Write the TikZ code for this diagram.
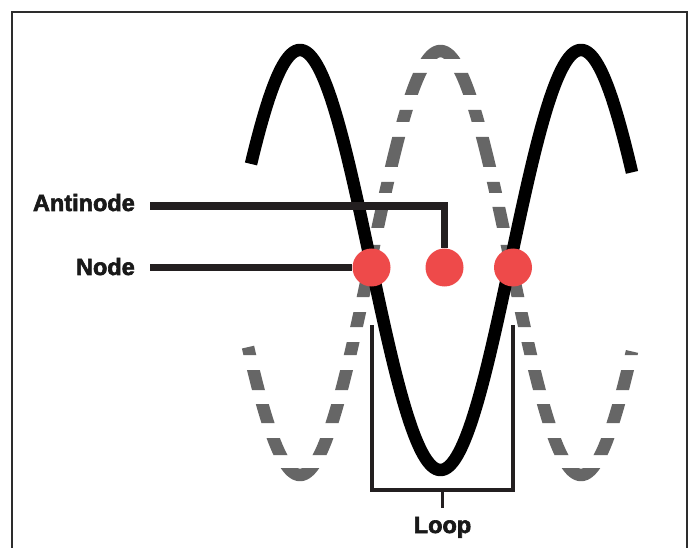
\documentclass[tikz,border=0pt]{standalone}
\usepackage{fontspec}
\setmainfont{Liberation Sans}[BoldFeatures={FakeBold=2.6}]
\definecolor{framegray}{RGB}{45,45,45}
\definecolor{wavegray}{RGB}{102,102,102}
\definecolor{linedark}{RGB}{35,31,32}
\definecolor{dotred}{RGB}{238,74,74}
\begin{document}
\begin{tikzpicture}[x=1pt,y=-1pt,
  frame/.style={draw=framegray,line width=2.5pt},
  wave/.style={line width=12.5pt,line join=round},
  conn/.style={draw=linedark,line width=7.5pt},
  brk/.style={draw=linedark,line width=3.5pt},
  dot/.style={circle,fill=dotred,minimum size=38pt,inner sep=0pt},
  lbl/.style={font=\fontsize{23.5}{23.5}\selectfont\bfseries,inner sep=0pt,text=black!90}]
\useasboundingbox (0,0) rectangle (691,548);
\fill[white] (0,0) rectangle (691,548);
\draw[frame] (12,548) -- (12,12) -- (687,12) -- (687,548);
% dashed (grey) wave, cut by horizontal bands
\begin{scope}
\clip (0,40) rectangle (691,59) (0,73) rectangle (691,95) (0,110) rectangle (691,122)
      (0,137) rectangle (691,167) (0,182) rectangle (691,193) (0,207) rectangle (691,228)
      (0,245) rectangle (691,258) (0,281) rectangle (691,297) (0,312) rectangle (691,327)
      (0,342) rectangle (691,355) (0,370) rectangle (691,390) (0,404) rectangle (691,423)
      (0,438) rectangle (691,455) (0,468) rectangle (691,490);
\draw[wave,draw=wavegray] plot[domain=248:632,samples=240,smooth] (\x,{263+212*cos(1.28114*(\x-300))});
\end{scope}
% solid (black) wave
\draw[wave,draw=black] plot[domain=251:632,samples=240,smooth] (\x,{260-210*cos(1.28114*(\x-300))});
% labels
\node[lbl,anchor=base east] (lblA) at (135,211) {Antinode};
\node[lbl,anchor=base east] (lblN) at (135,275) {Node};
\node[lbl,anchor=base] (lblL) at (442.5,533) {Loop};
% points
\node[dot] (n1) at (371.5,267.5) {};
\node[dot] (a1) at (444.5,267.5) {};
\node[dot] (n2) at (513,267.5) {};
% connectors
\draw[conn] ([xshift=15pt,yshift=-3.6pt]lblA.east) -| (a1.north);
\draw[conn] ([xshift=15pt]lblN.east |- n1.west) -- (n1.west);
% loop bracket
\coordinate (bl) at (372,325);
\coordinate (br) at (513,325);
\coordinate (bm) at (442.5,490);
\draw[brk] (bl) |- (bm) -| (br);
\draw[brk] (bm) -- ([yshift=8.5pt]lblL.north);
\end{tikzpicture}
\end{document}
